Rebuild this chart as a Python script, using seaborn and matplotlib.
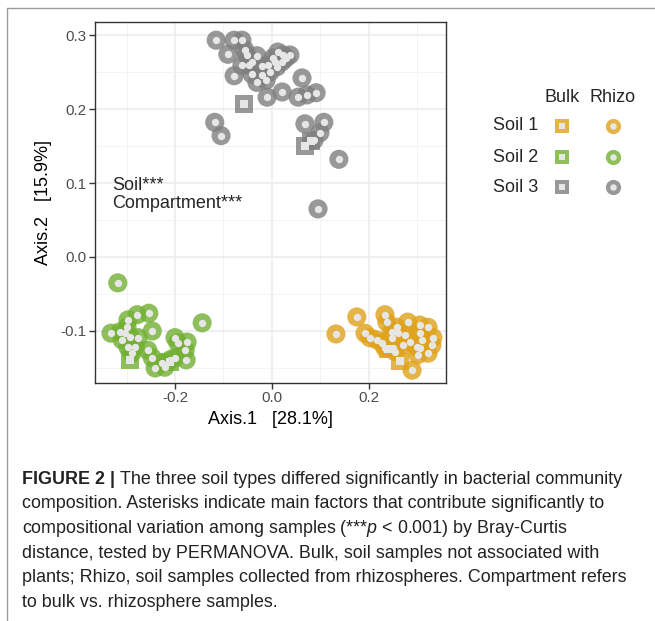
import numpy as np
import pandas as pd
import matplotlib
matplotlib.use("Agg")
import matplotlib.pyplot as plt
from matplotlib.ticker import MultipleLocator
import seaborn as sns

# ---------------- data ----------------
soil1_rhizo_x = [0.132, 0.175, 0.192, 0.233, 0.237, 0.280, 0.322, 0.258, 0.260, 0.216,
                 0.227, 0.247, 0.249, 0.274, 0.270, 0.285, 0.305, 0.309, 0.299, 0.332,
                 0.330, 0.322, 0.305, 0.301, 0.233, 0.254, 0.289, 0.247, 0.202, 0.305]
soil1_rhizo_y = [-0.104, -0.081, -0.103, -0.078, -0.088, -0.088, -0.095, -0.095, -0.103, -0.112,
                 -0.116, -0.109, -0.123, -0.105, -0.119, -0.115, -0.103, -0.112, -0.122, -0.109,
                 -0.119, -0.130, -0.123, -0.132, -0.123, -0.128, -0.153, -0.101, -0.109, -0.092]
soil1_bulk_x = [0.264, 0.239]
soil1_bulk_y = [-0.141, -0.124]

soil2_rhizo_x = [-0.318, -0.332, -0.313, -0.309, -0.303, -0.297, -0.299, -0.293, -0.297, -0.289,
                 -0.278, -0.276, -0.282, -0.254, -0.247, -0.256, -0.247, -0.241, -0.227, -0.221,
                 -0.210, -0.200, -0.200, -0.194, -0.175, -0.179, -0.177, -0.144]
soil2_rhizo_y = [-0.035, -0.103, -0.101, -0.112, -0.103, -0.085, -0.095, -0.108, -0.122, -0.130,
                 -0.078, -0.109, -0.122, -0.076, -0.100, -0.126, -0.136, -0.150, -0.143, -0.149,
                 -0.139, -0.136, -0.109, -0.116, -0.115, -0.126, -0.139, -0.089]
soil2_bulk_x = [-0.293, -0.210]
soil2_bulk_y = [-0.139, -0.142]

soil3_rhizo_x = [-0.115, -0.078, -0.062, -0.091, -0.056, -0.052, -0.031, -0.062, -0.047, -0.078,
                 -0.041, -0.021, -0.031, -0.012, -0.004, -0.008, 0.002, 0.012, 0.023, 0.037,
                 0.010, 0.021, 0.062, -0.010, 0.021, 0.054, 0.072, 0.091, -0.118, -0.105,
                 0.068, 0.107, 0.099, 0.087, 0.138, 0.095, -0.041, -0.021, 0.006, 0.029]
soil3_rhizo_y = [0.293, 0.293, 0.293, 0.274, 0.280, 0.273, 0.272, 0.259, 0.259, 0.245,
                 0.247, 0.246, 0.236, 0.239, 0.250, 0.259, 0.269, 0.277, 0.273, 0.273,
                 0.257, 0.264, 0.242, 0.216, 0.223, 0.216, 0.219, 0.222, 0.182, 0.164,
                 0.180, 0.182, 0.168, 0.158, 0.132, 0.065, 0.264, 0.258, 0.264, 0.269]
soil3_bulk_x = [-0.058, 0.068, 0.080]
soil3_bulk_y = [0.207, 0.150, 0.157]

soils = ["Soil 1", "Soil 2", "Soil 3"]
compartments = ["Bulk", "Rhizo"]
x_label = "Axis.1   [28.1%]"
y_label = "Axis.2   [15.9%]"
x_ticks = [-0.2, 0.0, 0.2]
y_ticks = [-0.1, 0.0, 0.1, 0.2, 0.3]
annot_lines = ["Soil***", "Compartment***"]
caption_bold = "FIGURE 2 | "
caption_lines = [
    "The three soil types differed significantly in bacterial community",
    "composition. Asterisks indicate main factors that contribute significantly to",
    "compositional variation among samples (***$\\mathit{p}$ < 0.001) by Bray-Curtis",
    "distance, tested by PERMANOVA. Bulk, soil samples not associated with",
    "plants; Rhizo, soil samples collected from rhizospheres. Compartment refers",
    "to bulk vs. rhizosphere samples.",
]

colors = {"Soil 1": "#DFA21A", "Soil 2": "#72B033", "Soil 3": "#7F7F7F"}
inner = "#E6E6E6"

rows = []
for soil, (rx, ry, bx, by) in zip(soils, [
        (soil1_rhizo_x, soil1_rhizo_y, soil1_bulk_x, soil1_bulk_y),
        (soil2_rhizo_x, soil2_rhizo_y, soil2_bulk_x, soil2_bulk_y),
        (soil3_rhizo_x, soil3_rhizo_y, soil3_bulk_x, soil3_bulk_y)]):
    for x, y in zip(rx, ry):
        rows.append((x, y, soil, "Rhizo"))
    for x, y in zip(bx, by):
        rows.append((x, y, soil, "Bulk"))
df = pd.DataFrame(rows, columns=["x", "y", "soil", "comp"])

# ---------------- figure ----------------
sns.set_theme(style="white")
plt.rcParams["font.family"] = ["Liberation Sans", "DejaVu Sans"]
plt.rcParams["mathtext.fontset"] = "custom"
plt.rcParams["mathtext.rm"] = "Liberation Sans"
plt.rcParams["mathtext.it"] = "Liberation Sans:italic"

W, H = 655, 621
fig = plt.figure(figsize=(W / 100, H / 100), dpi=100)
fig.patch.set_facecolor("white")

ax = fig.add_axes([95 / W, 1 - 383 / H, (446 - 95) / W, (383 - 22) / H])
ax.set_facecolor("white")

markers = {"Bulk": "s", "Rhizo": "o"}
sizes_outer = {"Bulk": 160, "Rhizo": 190}
sizes_inner = {"Bulk": 30, "Rhizo": 28}

for comp in compartments:
    sub = df[df.comp == comp]
    sns.scatterplot(data=sub, x="x", y="y", hue="soil", palette=colors,
                    marker=markers[comp], s=sizes_outer[comp], alpha=0.8,
                    linewidth=0, legend=False, ax=ax, zorder=3)
for comp in compartments:
    sub = df[df.comp == comp]
    sns.scatterplot(data=sub, x="x", y="y", color=inner,
                    marker=markers[comp], s=sizes_inner[comp],
                    linewidth=0, legend=False, ax=ax, zorder=4)

ax.set_xlim(-0.365, 0.359)
ax.set_ylim(-0.1703, 0.3176)
ax.set_xticks(x_ticks)
ax.set_yticks(y_ticks)
ax.set_xticklabels(["-0.2", "0.0", "0.2"])
ax.set_yticklabels(["-0.1", "0.0", "0.1", "0.2", "0.3"])
ax.xaxis.set_minor_locator(MultipleLocator(0.1))
ax.yaxis.set_minor_locator(MultipleLocator(0.05))
ax.grid(True, which="major", color="#EBEBEB", linewidth=1.1, zorder=0)
ax.grid(True, which="minor", color="#F2F2F2", linewidth=0.6, zorder=0)
ax.set_axisbelow(True)
for sp in ax.spines.values():
    sp.set_color("#333333")
    sp.set_linewidth(1.0)
ax.tick_params(axis="both", which="major", direction="out", length=4, width=1,
               color="#333333", labelcolor="#4D4D4D", labelsize=11, pad=2,
               bottom=True, left=True)
ax.tick_params(axis="both", which="minor", length=0)
ax.set_xlabel(x_label, fontsize=13, color="black", labelpad=4)
ax.set_ylabel(y_label, fontsize=13, color="black", labelpad=6)

# annotations
fig.text(112 / W, 1 - 185 / H, annot_lines[0], fontsize=13, va="center", ha="left")
fig.text(112 / W, 1 - 203 / H, annot_lines[1], fontsize=13, va="center", ha="left")

# ---------------- legend (overlay) ----------------
lax = fig.add_axes([0, 0, 1, 1], facecolor="none")
lax.set_xlim(0, W)
lax.set_ylim(H, 0)
lax.axis("off")
col_x = {"Bulk": 562, "Rhizo": 613}
row_y = {"Soil 1": 126, "Soil 2": 157, "Soil 3": 187}
for comp in compartments:
    lax.text(col_x[comp], 97, comp, fontsize=13, ha="center", va="center")
for soil in soils:
    lax.text(538, row_y[soil], soil, fontsize=13, ha="right", va="center")
    for comp in compartments:
        lax.scatter([col_x[comp]], [row_y[soil]], marker=markers[comp],
                    s=105 if comp == "Bulk" else 120, color=colors[soil], alpha=0.8,
                    linewidths=0)
        lax.scatter([col_x[comp]], [row_y[soil]], marker=markers[comp],
                    s=22, color=inner, linewidths=0)

# frame lines
lax.plot([7, 7], [8, H], color="#9A9A9A", lw=1.0)
lax.plot([7, W], [8, 8], color="#9A9A9A", lw=1.0)

# ---------------- caption ----------------
fig.canvas.draw()
renderer = fig.canvas.get_renderer()
cap_fs = 12.9
y0 = 479
t_bold = lax.text(22, y0, caption_bold, fontsize=cap_fs, fontweight="bold",
                  ha="left", va="center", color="#222222")
bb = t_bold.get_window_extent(renderer)
x_after = bb.x1
for i, line in enumerate(caption_lines):
    xx = x_after if i == 0 else 22
    lax.text(xx, y0 + 24.7 * i, line, fontsize=cap_fs, ha="left", va="center",
             color="#222222")

fig.savefig("out.png", dpi=100, facecolor="white")
